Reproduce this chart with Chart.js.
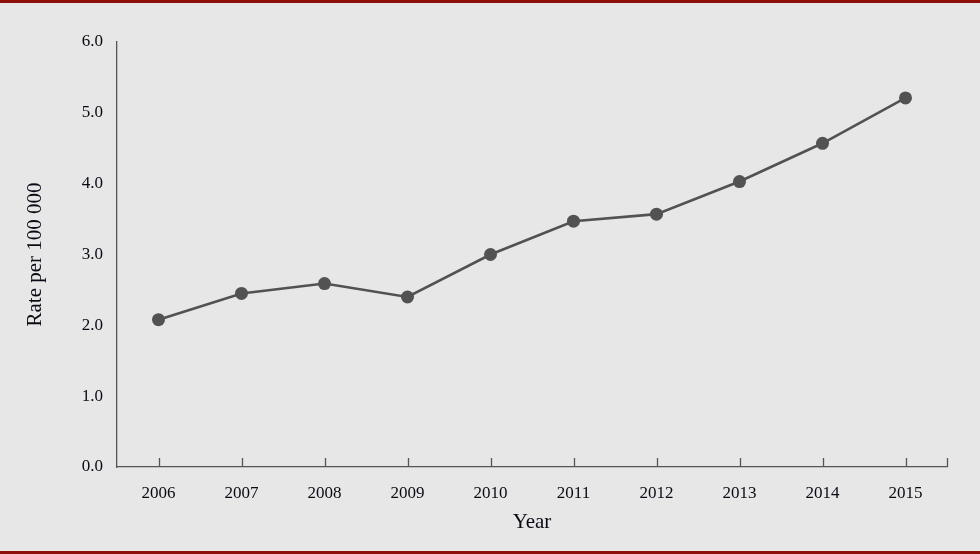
<!DOCTYPE html>
<html>
<head>
<meta charset="utf-8">
<script src="https://cdn.jsdelivr.net/npm/chart.js@4/dist/chart.umd.min.js"></script>
<style>
  html, body { margin: 0; padding: 0; background: #e7e7e7; }
  #wrap {
    width: 980px; height: 548px;
    border-top: 3px solid #8e0f0a;
    border-bottom: 3px solid #8e0f0a;
    background: #e7e7e7;
  }
</style>
</head>
<body>
<div id="wrap"><canvas id="chart" width="980" height="548"></canvas></div>
<script>
const years = ['2006', '2007', '2008', '2009', '2010', '2011', '2012', '2013', '2014', '2015'];
const rates = [2.08, 2.45, 2.59, 2.40, 3.00, 3.47, 3.57, 4.03, 4.57, 5.21];
const yTicks = [0, 1, 2, 3, 4, 5, 6];

const axisColor = '#555555';
const textColor = '#0a0a14';
const fontFamily = '"Liberation Serif", serif';

// small inward tick marks on the x axis, at each year and at the right end
const xTickMarks = {
    id: 'xTickMarks',
    afterDraw(chart) {
        const ctx = chart.ctx;
        const x = chart.scales.x;
        const yBottom = chart.chartArea.bottom;
        const spots = years.map((_, i) => x.getPixelForValue(i));
        spots.push(chart.chartArea.right);
        ctx.save();
        ctx.strokeStyle = axisColor;
        ctx.lineWidth = 1.3;
        spots.forEach((px) => {
            ctx.beginPath();
            ctx.moveTo(Math.round(px) + 0.5, yBottom);
            ctx.lineTo(Math.round(px) + 0.5, yBottom - 9);
            ctx.stroke();
        });
        ctx.restore();
    }
};

new Chart(document.getElementById('chart'), {
    type: 'line',
    data: {
        labels: years,
        datasets: [{
            data: rates,
            borderColor: '#525252',
            backgroundColor: '#525252',
            borderWidth: 2.6,
            pointRadius: 6.5,
            pointHoverRadius: 6.5,
            pointBackgroundColor: '#525252',
            pointBorderWidth: 0,
            tension: 0
        }]
    },
    options: {
        responsive: false,
        animation: false,
        layout: { padding: { top: 39, right: 33, bottom: 0, left: 0 } },
        plugins: {
            legend: { display: false },
            tooltip: { enabled: false }
        },
        scales: {
            x: {
                offset: true,
                grid: { display: false, drawTicks: false },
                border: { display: true, color: axisColor, width: 1.3 },
                ticks: {
                    color: textColor,
                    padding: 16,
                    maxRotation: 0,
                    font: { family: fontFamily, size: 17 }
                },
                title: {
                    display: true,
                    text: 'Year',
                    color: textColor,
                    font: { family: fontFamily, size: 21 },
                    padding: { top: 0, bottom: 16 }
                },
                afterFit(scale) { scale.height = 84; }
            },
            y: {
                min: 0,
                max: 6,
                afterBuildTicks(scale) {
                    scale.ticks = yTicks.map((v) => ({ value: v }));
                },
                grid: { display: false, drawTicks: false },
                border: { display: true, color: axisColor, width: 1.3 },
                ticks: {
                    color: textColor,
                    padding: 14,
                    font: { family: fontFamily, size: 17 },
                    callback: (v) => Number(v).toFixed(1)
                },
                title: {
                    display: true,
                    text: 'Rate per 100 000',
                    color: textColor,
                    font: { family: fontFamily, size: 21 },
                    padding: { top: 23, bottom: 0 }
                },
                afterFit(scale) { scale.width = 117; }
            }
        }
    },
    plugins: [xTickMarks]
});
</script>
</body>
</html>
